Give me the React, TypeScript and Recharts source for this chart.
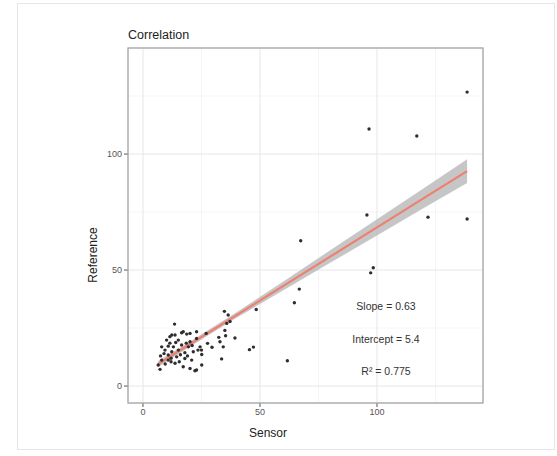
import React from "react";
import {
  ComposedChart,
  Scatter,
  Line,
  Area,
  XAxis,
  YAxis,
  CartesianGrid,
} from "recharts";

// Observations (Sensor vs Reference)
const sensor: number[] = [
  138.5, 96.6, 117, 95.7, 121.8, 138.5, 98.4, 97.3, 67.4, 66.8, 64.7, 48.4, 61.7, 47.2, 45.5,
  34.8, 36.4, 37.2, 35.8, 35, 35.3, 32.4, 27, 39.3, 29.5, 27.6, 34.3, 25.1, 33.6, 25, 32.9, 23.5,
  13.5, 11.5, 16.5, 18.7, 13.7, 12.3, 17.2, 20.1, 22.9, 10.1, 15.1, 20.1, 22.9, 8, 10.8, 13, 16.5,
  19.4, 24.4, 9.4, 12.3, 15.1, 17.9, 21.5, 10.8, 14.4, 17.9, 20.8, 8, 10.8, 6.5, 7.3, 13.7, 17.2,
  20.1, 22.2, 25.1, 22.9, 11.5, 14, 9, 12, 16, 19, 7.5, 9.5, 12, 18.5, 21, 15.5,
];
const reference: number[] = [
  126.7, 110.8, 107.8, 73.7, 72.8, 72, 51, 48.8, 62.6, 41.8, 35.9, 33, 10.9, 16.8, 15.7,
  32.2, 30.6, 27.8, 27, 24, 21.7, 21, 22.7, 20.7, 16.7, 18.4, 16.9, 13.6, 11.7, 15.5, 19.1, 15.5,
  26.7, 21.3, 23, 22.4, 22, 22, 23.4, 22.7, 23.4, 19.8, 19.8, 19.1, 20.5, 16.9, 17.2, 16.9, 17.7,
  16.9, 16.9, 15.5, 14.8, 15.5, 14.4, 14.8, 13.4, 12.6, 11.9, 11.2, 11.2, 11.2, 9.1, 7.2, 9.8, 8.3,
  7.6, 6.6, 9.1, 6.9, 18.5, 18.8, 14, 12, 13.5, 13, 13, 9.5, 10.5, 18.5, 17.5, 10.5,
];

// Linear fit (from annotation) and confidence band half-widths
const slope = 0.63;
const intercept = 5.4;
const r2 = 0.775;
const fitX: number[] = [6.5, 20, 40, 60, 80, 100, 120, 138.5];
const bandHalf: number[] = [1.4, 1.1, 1.2, 1.9, 2.7, 3.5, 4.3, 5.1];

const xTicks: number[] = [0, 50, 100];
const yTicks: number[] = [0, 50, 100];
const minorGrid: number[] = [25, 75, 125];

const X_DOMAIN: [number, number] = [-6.4, 145.3];
const Y_DOMAIN: [number, number] = [-7.3, 145.7];

const points = sensor.map((x, i) => ({ x, y: reference[i] }));
const fitData = fitX.map((x, i) => {
  const f = slope * x + intercept;
  return { x, fit: f, band: [f - bandHalf[i], f + bandHalf[i]] };
});

const FONT = "Arial, 'Liberation Sans', Helvetica, sans-serif";

const Dot = (props: any) => {
  const { cx, cy } = props;
  if (cx == null || cy == null) return null;
  return <circle cx={cx} cy={cy} r={1.7} fill="#2e2e2e" />;
};

export default function App() {
  return (
    <div
      style={{
        position: "absolute",
        left: 0,
        top: 0,
        width: 557,
        height: 456,
        background: "#fff",
        fontFamily: FONT,
      }}
    >
      <ComposedChart
        width={557}
        height={456}
        data={fitData}
        margin={{ top: 48, right: 74, bottom: 23, left: 88 }}
      >
        <CartesianGrid
          xAxisId="minor"
          yAxisId="minor"
          stroke="#f2f2f2"
          strokeWidth={0.8}
        />
        <CartesianGrid stroke="#e6e6e6" strokeWidth={1} />
        <XAxis
          xAxisId="minor"
          dataKey="x"
          type="number"
          domain={X_DOMAIN}
          allowDataOverflow
          ticks={minorGrid}
          hide
        />
        <YAxis
          yAxisId="minor"
          type="number"
          domain={Y_DOMAIN}
          allowDataOverflow
          ticks={minorGrid}
          hide
        />
        <XAxis
          dataKey="x"
          type="number"
          domain={X_DOMAIN}
          allowDataOverflow
          ticks={xTicks}
          axisLine={false}
          tickSize={4}
          tickMargin={2}
          height={30}
          tickLine={{ stroke: "#555" }}
          tick={{ fontSize: 9, fill: "#555", fontFamily: FONT }}
        />
        <YAxis
          type="number"
          domain={Y_DOMAIN}
          allowDataOverflow
          ticks={yTicks}
          axisLine={false}
          tickSize={4}
          tickMargin={2}
          width={40}
          tickLine={{ stroke: "#555" }}
          tick={{ fontSize: 9, fill: "#555", fontFamily: FONT }}
        />
        <Scatter
          data={points}
          dataKey="y"
          shape={<Dot />}
          isAnimationActive={false}
        />
        <Area
          dataKey="band"
          type="linear"
          stroke="none"
          fill="#b3b3b3"
          fillOpacity={0.75}
          isAnimationActive={false}
          activeDot={false}
          dot={false}
        />
        <Line
          dataKey="fit"
          type="linear"
          stroke="#ef7f6f"
          strokeWidth={2.2}
          dot={false}
          activeDot={false}
          isAnimationActive={false}
        />
      </ComposedChart>
      <svg
        width={557}
        height={456}
        style={{ position: "absolute", left: 0, top: 0, pointerEvents: "none" }}
        fontFamily={FONT}
      >
        <rect x={17.5} y={3.5} width={537} height={446} fill="none" stroke="#e6e6e6" strokeWidth={1} />
        <rect x={128} y={48} width={355} height={355} fill="none" stroke="#a8a8a8" strokeWidth={1.3} />
        <text x={128} y={39} fontSize={12.5} fill="#222">Correlation</text>
        <text x={268} y={437} fontSize={12} fill="#222" textAnchor="middle">Sensor</text>
        <text
          x={97}
          y={255}
          fontSize={12}
          fill="#222"
          textAnchor="middle"
          transform="rotate(-90 97 255)"
        >
          Reference
        </text>
        <text x={386} y={310} fontSize={10.5} fill="#333" textAnchor="middle">
          {"Slope = " + slope}
        </text>
        <text x={386} y={343} fontSize={10.5} fill="#333" textAnchor="middle">
          {"Intercept = " + intercept}
        </text>
        <text x={386} y={375} fontSize={10.5} fill="#333" textAnchor="middle">
          {"R² = " + r2}
        </text>
      </svg>
    </div>
  );
}
